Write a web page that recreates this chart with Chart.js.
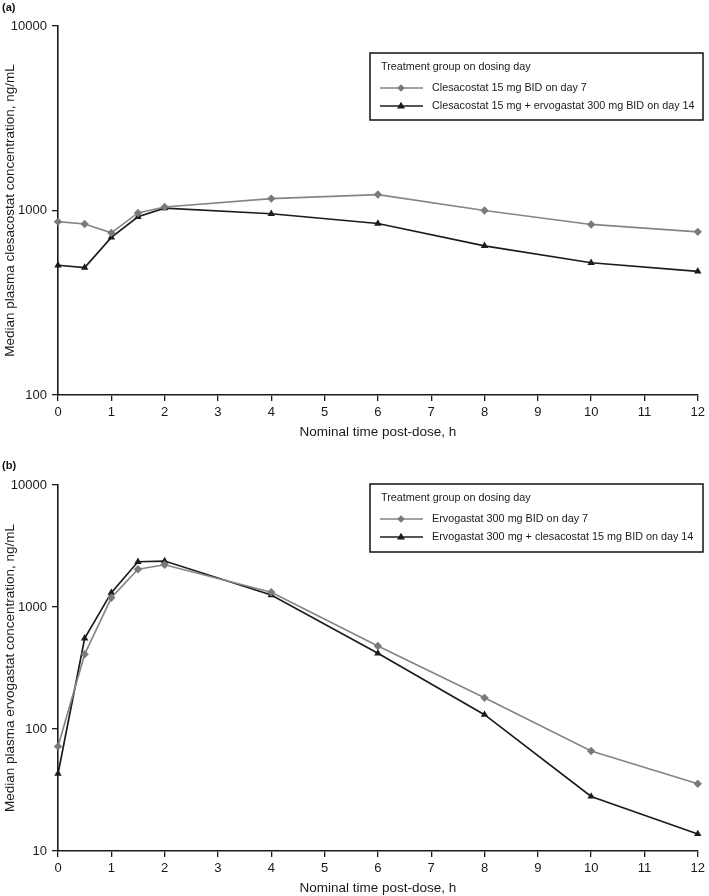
<!DOCTYPE html>
<html>
<head>
<meta charset="utf-8">
<script src="https://cdn.jsdelivr.net/npm/chart.js@4/dist/chart.umd.min.js"></script>
<style>
  html, body { margin: 0; padding: 0; background: #fff; }
  body { width: 709px; height: 896px; position: relative; overflow: hidden; }
  .wrap { position: absolute; left: 0; width: 709px; height: 440px; }
  #wa { top: 0; }
  #wb { top: 456px; }
</style>
</head>
<body>
<div class="wrap" id="wa"><canvas id="ca" width="709" height="440"></canvas></div>
<div class="wrap" id="wb"><canvas id="cb" width="709" height="440"></canvas></div>
<script>
// ---- data ----
const timesH = [0, 0.5, 1, 1.5, 2, 4, 6, 8, 10, 12];
const clesacostatDay7 = [870, 845, 756, 970, 1045, 1160, 1220, 1000, 840, 766];
const clesacostatDay14 = [505, 490, 715, 925, 1030, 960, 850, 643, 521, 468];
const ervogastatDay7 = [72, 410, 1190, 2040, 2220, 1320, 479, 180, 66, 35.6];
const ervogastatDay14 = [43, 554, 1310, 2350, 2380, 1254, 417, 131, 28, 13.8];
const yTicksA = [100, 1000, 10000];
const yTicksB = [10, 100, 1000, 10000];
const labelsA = ['Clesacostat 15 mg BID on day 7', 'Clesacostat 15 mg + ervogastat 300 mg BID on day 14'];
const labelsB = ['Ervogastat 300 mg BID on day 7', 'Ervogastat 300 mg + clesacostat 15 mg BID on day 14'];
const legendTitle = 'Treatment group on dosing day';
const xTitle = 'Nominal time post-dose, h';
const yTitleA = 'Median plasma clesacostat concentration, ng/mL';
const yTitleB = 'Median plasma ervogastat concentration, ng/mL';

const FONT = "'Liberation Sans', Arial, Helvetica, sans-serif";
const GRAY = '#858585';
const GRAY_PT = '#7a7a7a';
const DARK = '#1c1c1c';

function pts(ys) { return timesH.map((t, i) => ({ x: t, y: ys[i] })); }

function drawMarker(ctx, style, x, y, r, color) {
  ctx.save();
  ctx.fillStyle = color;
  ctx.beginPath();
  if (style === 'rectRot') {
    ctx.moveTo(x, y - r); ctx.lineTo(x + r, y); ctx.lineTo(x, y + r); ctx.lineTo(x - r, y);
  } else {
    ctx.moveTo(x, y - r); ctx.lineTo(x + r * 0.95, y + r * 0.6); ctx.lineTo(x - r * 0.95, y + r * 0.6);
  }
  ctx.closePath();
  ctx.fill();
  ctx.restore();
}

const boxLegend = {
  id: 'boxLegend',
  afterDraw(chart, args, o) {
    const ctx = chart.ctx;
    ctx.save();
    // panel label
    ctx.fillStyle = '#111';
    ctx.font = 'bold 11px ' + FONT;
    ctx.textAlign = 'left';
    ctx.textBaseline = 'middle';
    ctx.fillText(o.panel, 2, o.panelY);
    // box
    ctx.strokeStyle = '#111';
    ctx.lineWidth = 1.5;
    ctx.strokeRect(o.x, o.y, o.w, o.h);
    ctx.font = '10.8px ' + FONT;
    ctx.fillStyle = '#1a1a1a';
    ctx.fillText(legendTitle, o.x + 11, o.y + 14);
    chart.data.datasets.forEach((ds, i) => {
      const yy = o.y + 35 + i * 18;
      ctx.strokeStyle = ds.borderColor;
      ctx.lineWidth = 1.5;
      ctx.beginPath();
      ctx.moveTo(o.x + 10, yy);
      ctx.lineTo(o.x + 53, yy);
      ctx.stroke();
      drawMarker(ctx, ds.pointStyle, o.x + 31, yy, ds.pointStyle === 'rectRot' ? 3.8 : 4.2, ds.pointBackgroundColor);
      ctx.fillStyle = '#1a1a1a';
      ctx.fillText(ds.label, o.x + 62, yy);
    });
    ctx.restore();
  }
};

function makeChart(id, s1, s2, labels, yTicks, yMin, yTitle, padTop, legendOpts) {
  return new Chart(document.getElementById(id), {
    type: 'line',
    data: {
      datasets: [
        { label: labels[0], data: pts(s1), borderColor: GRAY, borderWidth: 1.7,
          pointStyle: 'rectRot', pointRadius: 4.2, pointBackgroundColor: GRAY_PT, pointBorderColor: GRAY_PT,
          pointBorderWidth: 0, tension: 0, clip: false },
        { label: labels[1], data: pts(s2), borderColor: DARK, borderWidth: 1.7,
          pointStyle: 'triangle', pointRadius: 4.3, pointBackgroundColor: DARK, pointBorderColor: DARK,
          pointBorderWidth: 0, tension: 0, clip: false }
      ]
    },
    options: {
      responsive: false,
      animation: false,
      devicePixelRatio: 1,
      layout: { padding: { top: padTop, right: 7, left: 0, bottom: 0 } },
      plugins: { legend: { display: false }, tooltip: { enabled: false }, boxLegend: legendOpts },
      scales: {
        x: {
          type: 'linear', min: 0, max: 12,
          ticks: { stepSize: 1, color: '#1a1a1a', font: { family: FONT, size: 13 }, padding: 4, maxRotation: 0 },
          grid: { drawOnChartArea: false, drawTicks: true, tickLength: 6, color: '#1a1a1a', lineWidth: 1.3 },
          border: { display: true, color: '#1a1a1a', width: 1.6 },
          title: { display: true, text: xTitle, color: '#1a1a1a', font: { family: FONT, size: 13.5 }, padding: { top: 0, bottom: 0 } },
          afterFit(scale) { scale.height = 45; }
        },
        y: {
          type: 'logarithmic', min: yMin, max: 10000,
          afterBuildTicks(scale) { scale.ticks = yTicks.map(v => ({ value: v, major: true })); },
          ticks: { color: '#1a1a1a', font: { family: FONT, size: 13 }, padding: 5, autoSkip: false,
                   callback: (v) => String(v) },
          grid: { drawOnChartArea: false, drawTicks: true, tickLength: 6, color: '#1a1a1a', lineWidth: 1.3 },
          border: { display: true, color: '#1a1a1a', width: 1.6 },
          title: { display: true, text: yTitle, color: '#1a1a1a', font: { family: FONT, size: 13.5 }, padding: { top: 2, bottom: 0 } },
          afterFit(scale) { scale.width = 58; }
        }
      }
    },
    plugins: [boxLegend]
  });
}

makeChart('ca', clesacostatDay7, clesacostatDay14, labelsA, yTicksA, 100, yTitleA, 26,
  { x: 370, y: 53, w: 333, h: 67, panel: '(a)', panelY: 8 });
makeChart('cb', ervogastatDay7, ervogastatDay14, labelsB, yTicksB, 10, yTitleB, 29,
  { x: 370, y: 28, w: 333, h: 68, panel: '(b)', panelY: 10 });
</script>
</body>
</html>
